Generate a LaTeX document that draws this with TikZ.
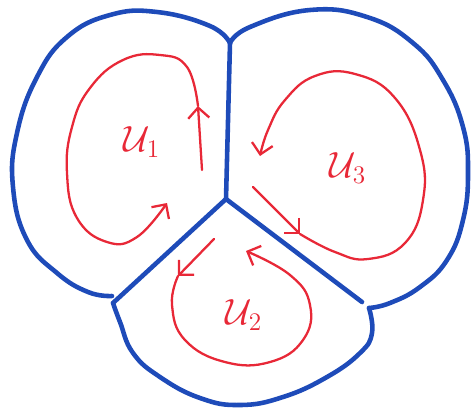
\documentclass[tikz,border=0pt]{standalone}
\usepackage{xcolor}
\usepackage{tikz}
\usetikzlibrary{arrows.meta}

\definecolor{penblue}{RGB}{30,75,185}
\definecolor{penred}{RGB}{232,40,55}

\begin{document}
\begin{tikzpicture}[
      x=0.02cm, y=-0.02cm,
      wall/.style={draw=penblue, line width=2.6pt, line cap=round, line join=round},
      flow/.style={draw=penred, line width=1.3pt, line cap=round,
                   -{Straight Barb[length=6pt, width=12pt, line width=1.3pt]}},
      lbl/.style={text=penred, font=\huge},
    ]
    \useasboundingbox (0,0) rectangle (472,410);

    % ---- junctions of the blue walls ----
    \coordinate (top) at (230,43);
    \coordinate (mid) at (226,199);
    \coordinate (lft) at (113,303);
    \coordinate (rgt) at (362,302);

    % ---- outer walls, one lobe per cell ----
    \draw[wall] plot[smooth, tension=0.75] coordinates {(230,43) (210,26)
        (157,12) (110,15) (67,37) (37,77) (17,133) (13,187) (27,240) (57,273)
        (88,292) (112,296)};
    \draw[wall] plot[smooth, tension=0.75] coordinates {(230,43) (250,27)
        (310,10) (367,17) (413,43) (443,80) (463,127) (468,173) (463,220)
        (447,260) (420,287) (390,303) (369,308)};
    \draw[wall] plot[smooth, tension=0.75] coordinates {(113,303) (120,322)
        (133,353) (160,377) (200,398) (240,405) (283,397) (327,377) (360,353)
        (372,333) (369,308)};

    % ---- inner walls ----
    \draw[wall] (top) -- (mid);
    \draw[wall] (mid) -- (lft);
    \draw[wall] (mid) -- (rgt);

    % ---- circulation in cell 1 ----
    \coordinate (a1) at (202,170);
    \coordinate (b1) at (198,106);
    \draw[flow] (a1) -- (b1);
    \draw[flow] plot[smooth, tension=0.75] coordinates {(b1) (187,67)
        (160,55) (123,60) (90,88) (72,127) (67,173) (77,218) (107,242)
        (137,237) (167,203)};
    \node[lbl] (u1) at (142,142) {$\mathcal{U}_1$};

    % ---- circulation in cell 3 ----
    \coordinate (a3) at (253,187);
    \coordinate (b3) at (300,234);
    \draw[flow] (a3) -- (b3);
    \draw[flow] plot[smooth, tension=0.75] coordinates {(b3) (335,252)
        (368,259) (405,243) (423,200) (420,150) (395,98) (355,74)
        (315,76) (285,100) (268,130) (260,156)};
    \node[lbl] (u3) at (348,168) {$\mathcal{U}_3$};

    % ---- circulation in cell 2 ----
    \coordinate (a2) at (214,239);
    \coordinate (b2) at (178,276);
    \draw[flow] (a2) -- (b2);
    \draw[flow] plot[smooth, tension=0.75] coordinates {(b2) (172,305)
        (185,340) (225,362) (270,362) (303,340) (310,305) (290,275)
        (246,251)};
    \node[lbl] (u2) at (244,315) {$\mathcal{U}_2$};
  \end{tikzpicture}
\end{document}
